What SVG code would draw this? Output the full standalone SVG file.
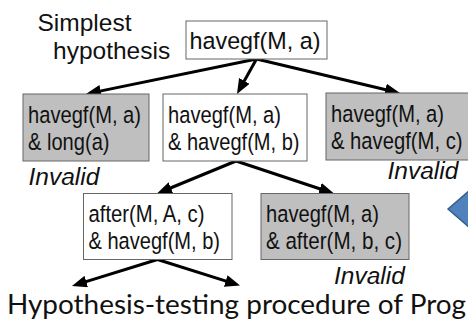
<svg xmlns="http://www.w3.org/2000/svg" width="468" height="324" viewBox="0 0 468 324">
<defs>
<marker id="ah" markerUnits="userSpaceOnUse" markerWidth="15" markerHeight="12" refX="7" refY="6" orient="auto" viewBox="0 0 15 12">
<path d="M0,0 L15,6 L0,12 z" fill="#000"/>
</marker>
<style>
.box{stroke:#666;stroke-width:1}
.w{fill:#fff}
.g{fill:#bfbfbf}
.t{font-family:"Liberation Sans Narrow","Arial Narrow","Liberation Sans",Arial,sans-serif;font-size:24.5px;fill:#111}
.lbl{font-family:"Liberation Sans",Arial,sans-serif;font-size:24.5px;fill:#111}
.inv{font-family:"Liberation Sans",Arial,sans-serif;font-size:24.5px;font-style:italic;fill:#111}
.cap{font-family:Lato,"Open Sans",sans-serif;font-size:26px;fill:#111}
.edge{stroke:#000;stroke-width:3;fill:none;marker-end:url(#ah)}
</style>
</defs>
<rect width="468" height="324" fill="#fff"/>
<g id="label-simplest">
<text class="lbl" x="37.5" y="31">Simplest</text>
<text class="lbl" x="53" y="59">hypothesis</text>
</g>
<g id="connectors">
<line class="edge" x1="256.5" y1="59" x2="93.8" y2="92.4"/>
<line class="edge" x1="256.5" y1="59" x2="240.9" y2="87"/>
<line class="edge" x1="256.5" y1="59" x2="392.2" y2="91.2"/>
<line class="edge" x1="236" y1="161" x2="164.4" y2="190.5"/>
<line class="edge" x1="236" y1="161" x2="326.4" y2="191"/>
<line class="edge" x1="157.5" y1="259.5" x2="79.6" y2="283.6"/>
<line class="edge" x1="157.5" y1="259.5" x2="232.4" y2="283.1"/>
</g>
<g id="root">
<rect class="box w" x="186" y="21" width="141" height="38"/>
<text class="t" x="189.5" y="49" font-size="27" textLength="131" lengthAdjust="spacingAndGlyphs">havegf(M, a)</text>
</g>
<g id="n-long">
<rect class="box g" x="23" y="94" width="126" height="67"/>
<text class="t" x="28" y="122.5" textLength="113" lengthAdjust="spacingAndGlyphs">havegf(M, a)</text>
<text class="t" x="28" y="149.8" textLength="81.5" lengthAdjust="spacingAndGlyphs">&amp; long(a)</text>
<text class="inv" x="28.5" y="185">Invalid</text>
</g>
<g id="n-b">
<rect class="box w" x="163" y="94" width="144" height="67"/>
<text class="t" x="168" y="122.5" textLength="113" lengthAdjust="spacingAndGlyphs">havegf(M, a)</text>
<text class="t" x="168" y="149.8" textLength="131.5" lengthAdjust="spacingAndGlyphs">&amp; havegf(M, b)</text>
</g>
<g id="n-c">
<rect class="box g" x="326" y="93" width="143.5" height="67"/>
<text class="t" x="331" y="121.5" textLength="113" lengthAdjust="spacingAndGlyphs">havegf(M, a)</text>
<text class="t" x="331" y="148.8" textLength="131.5" lengthAdjust="spacingAndGlyphs">&amp; havegf(M, c)</text>
<text class="inv" x="387.5" y="179">Invalid</text>
</g>
<g id="n-after-A">
<rect class="box w" x="83.5" y="193.5" width="148.5" height="66"/>
<text class="t" x="88.5" y="222" textLength="116" lengthAdjust="spacingAndGlyphs">after(M, A, c)</text>
<text class="t" x="88.5" y="249.3" textLength="131.5" lengthAdjust="spacingAndGlyphs">&amp; havegf(M, b)</text>
</g>
<g id="n-after-b">
<rect class="box g" x="261" y="193.5" width="148" height="66"/>
<text class="t" x="266" y="222" textLength="113" lengthAdjust="spacingAndGlyphs">havegf(M, a)</text>
<text class="t" x="266" y="249.3" textLength="136" lengthAdjust="spacingAndGlyphs">&amp; after(M, b, c)</text>
<text class="inv" x="334" y="284">Invalid</text>
</g>
<g id="blue-arrow">
<polygon points="448,209 470,190 470,228" fill="#4f81bd" stroke="#385d8a" stroke-width="1.5"/>
</g>
<text class="cap" x="7" y="314" textLength="459" lengthAdjust="spacingAndGlyphs">Hypothesis-testing procedure of Prog</text>
</svg>
